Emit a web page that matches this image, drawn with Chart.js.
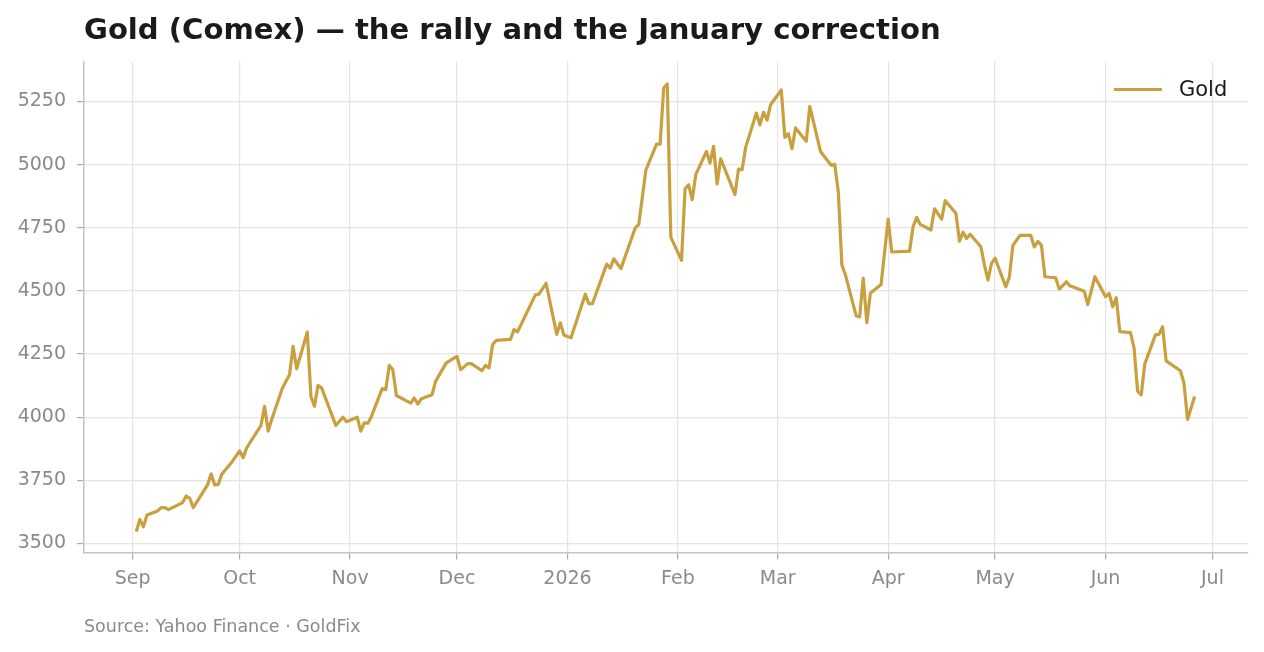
<!DOCTYPE html>
<html>
<head>
<meta charset="utf-8">
<script src="https://cdn.jsdelivr.net/npm/chart.js@4.4.1/dist/chart.umd.min.js"></script>
<style>
  body { margin: 0; background: #fff; }
  #wrap { position: relative; width: 1264px; height: 652px; font-family: "DejaVu Sans", sans-serif; }
  #title { position: absolute; left: 84px; top: 15px; font-size: 29.1px; line-height: 1; font-weight: bold; color: #1a1a1a; white-space: nowrap; }
  #source { position: absolute; left: 84px; top: 618px; font-size: 17.5px; line-height: 1; color: #8a8a8a; white-space: nowrap; }
  #legend { position: absolute; left: 1114px; top: 79px; font-size: 21px; line-height: 1; color: #1a1a1a; white-space: nowrap; }
  #legend .swatch { position: absolute; left: 0; top: 8.5px; width: 48px; height: 3px; background: #c8a040; }
  #legend .label { position: absolute; left: 65px; top: 0; }
</style>
</head>
<body>
<div id="wrap">
  <canvas id="goldChart" width="1264" height="652"></canvas>
  <div id="title">Gold (Comex) — the rally and the January correction</div>
  <div id="legend"><span class="swatch"></span><span class="label">Gold</span></div>
  <div id="source">Source: Yahoo Finance · GoldFix</div>
</div>
<script>
// Дневные цены закрытия (по вершинам линии на картинке)
const dates = [
  "2025-09-02","2025-09-03","2025-09-04","2025-09-05","2025-09-08","2025-09-09","2025-09-10","2025-09-11",
  "2025-09-15","2025-09-16","2025-09-17","2025-09-18","2025-09-22","2025-09-23","2025-09-24","2025-09-25",
  "2025-09-26","2025-09-29","2025-10-01","2025-10-02","2025-10-03","2025-10-07","2025-10-08","2025-10-09",
  "2025-10-10","2025-10-13","2025-10-15","2025-10-16","2025-10-17","2025-10-20","2025-10-21","2025-10-22",
  "2025-10-23","2025-10-24","2025-10-28","2025-10-30","2025-10-31","2025-11-03","2025-11-04","2025-11-05",
  "2025-11-06","2025-11-07","2025-11-10","2025-11-11","2025-11-12","2025-11-13","2025-11-14","2025-11-18",
  "2025-11-19","2025-11-20","2025-11-21","2025-11-24","2025-11-25","2025-11-28","2025-12-01","2025-12-02",
  "2025-12-04","2025-12-05","2025-12-08","2025-12-09","2025-12-10","2025-12-11","2025-12-12","2025-12-16",
  "2025-12-17","2025-12-18","2025-12-23","2025-12-24","2025-12-26","2025-12-29","2025-12-30","2025-12-31",
  "2026-01-02","2026-01-06","2026-01-07","2026-01-08","2026-01-12","2026-01-13","2026-01-14","2026-01-16",
  "2026-01-20","2026-01-21","2026-01-23","2026-01-26","2026-01-27","2026-01-28","2026-01-29","2026-01-30",
  "2026-02-02","2026-02-03","2026-02-04","2026-02-05","2026-02-06","2026-02-09","2026-02-10","2026-02-11",
  "2026-02-12","2026-02-13","2026-02-17","2026-02-18","2026-02-19","2026-02-20","2026-02-23","2026-02-24",
  "2026-02-25","2026-02-26","2026-02-27","2026-03-02","2026-03-03","2026-03-04","2026-03-05","2026-03-06",
  "2026-03-09","2026-03-10","2026-03-13","2026-03-16","2026-03-17","2026-03-18","2026-03-19","2026-03-20",
  "2026-03-23","2026-03-24","2026-03-25","2026-03-26","2026-03-27","2026-03-30","2026-04-01","2026-04-02",
  "2026-04-07","2026-04-08","2026-04-09","2026-04-10","2026-04-13","2026-04-14","2026-04-16","2026-04-17",
  "2026-04-20","2026-04-21","2026-04-22","2026-04-23","2026-04-24","2026-04-27","2026-04-28","2026-04-29",
  "2026-04-30","2026-05-01","2026-05-04","2026-05-05","2026-05-06","2026-05-08","2026-05-11","2026-05-12",
  "2026-05-13","2026-05-14","2026-05-15","2026-05-18","2026-05-19","2026-05-21","2026-05-22","2026-05-26",
  "2026-05-27","2026-05-29","2026-06-01","2026-06-02","2026-06-03","2026-06-04","2026-06-05","2026-06-08",
  "2026-06-09","2026-06-10","2026-06-11","2026-06-12","2026-06-15","2026-06-16","2026-06-17","2026-06-18",
  "2026-06-22","2026-06-23","2026-06-24","2026-06-26"
];

const goldPrices = [
  3547, 3595, 3566, 3613, 3629, 3642, 3642, 3634,
  3662, 3688, 3679, 3642, 3732, 3776, 3732, 3734,
  3774, 3826, 3866, 3840, 3879, 3968, 4043, 3945,
  3991, 4116, 4168, 4280, 4192, 4337, 4083, 4043,
  4126, 4116, 3967, 4000, 3982, 4000, 3945, 3978,
  3976, 4003, 4113, 4109, 4205, 4188, 4086, 4056,
  4076, 4052, 4073, 4089, 4142, 4215, 4241, 4188,
  4212, 4212, 4184, 4205, 4195, 4288, 4304, 4308,
  4347, 4338, 4484, 4487, 4530, 4328, 4374, 4325,
  4314, 4487, 4449, 4449, 4606, 4590, 4627, 4588,
  4749, 4762, 4978, 5081, 5081, 5303, 5319, 4713,
  4621, 4904, 4920, 4861, 4960, 5052, 5006, 5072,
  4923, 5023, 4881, 4982, 4980, 5068, 5204, 5157,
  5207, 5176, 5237, 5295, 5108, 5122, 5063, 5145,
  5092, 5230, 5052, 4997, 5001, 4892, 4603, 4563,
  4402, 4397, 4550, 4374, 4491, 4525, 4784, 4654,
  4657, 4755, 4791, 4763, 4741, 4825, 4784, 4857,
  4807, 4697, 4732, 4708, 4724, 4675, 4603, 4543,
  4609, 4629, 4516, 4555, 4680, 4720, 4720, 4674,
  4696, 4680, 4556, 4552, 4507, 4536, 4520, 4499,
  4446, 4556, 4477, 4490, 4437, 4473, 4339, 4335,
  4273, 4102, 4089, 4210, 4326, 4328, 4358, 4223,
  4184, 4135, 3991, 4082
];

// Подписи оси X: начало каждого месяца
const monthStarts = ["2025-09-01","2025-10-01","2025-11-01","2025-12-01","2026-01-01","2026-02-01",
                     "2026-03-01","2026-04-01","2026-05-01","2026-06-01","2026-07-01"];
const monthLabels = ["Sep","Oct","Nov","Dec","2026","Feb","Mar","Apr","May","Jun","Jul"];
const yTicks = [3500, 3750, 4000, 4250, 4500, 4750, 5000, 5250];

// Дни от 1 сентября 2025
const origin = Date.UTC(2025, 8, 1);
function dayOffset(s) {
    const [y, m, d] = s.split("-").map(Number);
    return (Date.UTC(y, m - 1, d) - origin) / 86400000;
}

const points = dates.map((d, i) => ({ x: dayOffset(d), y: goldPrices[i] }));
const monthTickValues = monthStarts.map(dayOffset);

const tickFont = { family: "DejaVu Sans", size: 19 };

new Chart(document.getElementById("goldChart").getContext("2d"), {
    type: "line",
    data: {
        datasets: [{
            label: "Gold",
            data: points,
            borderColor: "#c8a040",
            borderWidth: 3.2,
            pointRadius: 0,
            tension: 0,
            borderJoinStyle: "round",
            fill: false
        }]
    },
    options: {
        responsive: false,
        animation: false,
        layout: { padding: { top: 61.5, right: 16, left: 0, bottom: 0 } },
        plugins: {
            legend: { display: false },
            tooltip: { enabled: false }
        },
        scales: {
            x: {
                type: "linear",
                min: -13.67,
                max: 312.97,
                afterFit: s => { s.height = 99.5; },
                afterBuildTicks: s => { s.ticks = monthTickValues.map(v => ({ value: v })); },
                grid: { color: "#e4e4e4", lineWidth: 1.2, tickColor: "#ababab", tickLength: 7 },
                border: { color: "#c4c4c4", width: 1.5 },
                ticks: {
                    font: tickFont,
                    color: "#8a8a8a",
                    padding: 8,
                    maxRotation: 0,
                    autoSkip: false,
                    callback: (v, i) => monthLabels[i]
                }
            },
            y: {
                min: 3464.4,
                max: 5408,
                afterFit: s => { s.width = 84; },
                afterBuildTicks: s => { s.ticks = yTicks.map(v => ({ value: v })); },
                grid: { color: "#e4e4e4", lineWidth: 1.2, tickColor: "#ababab", tickLength: 7 },
                border: { color: "#c4c4c4", width: 1.5 },
                ticks: {
                    font: tickFont,
                    color: "#8a8a8a",
                    padding: 11,
                    callback: v => String(v)
                }
            }
        }
    }
});
</script>
</body>
</html>
